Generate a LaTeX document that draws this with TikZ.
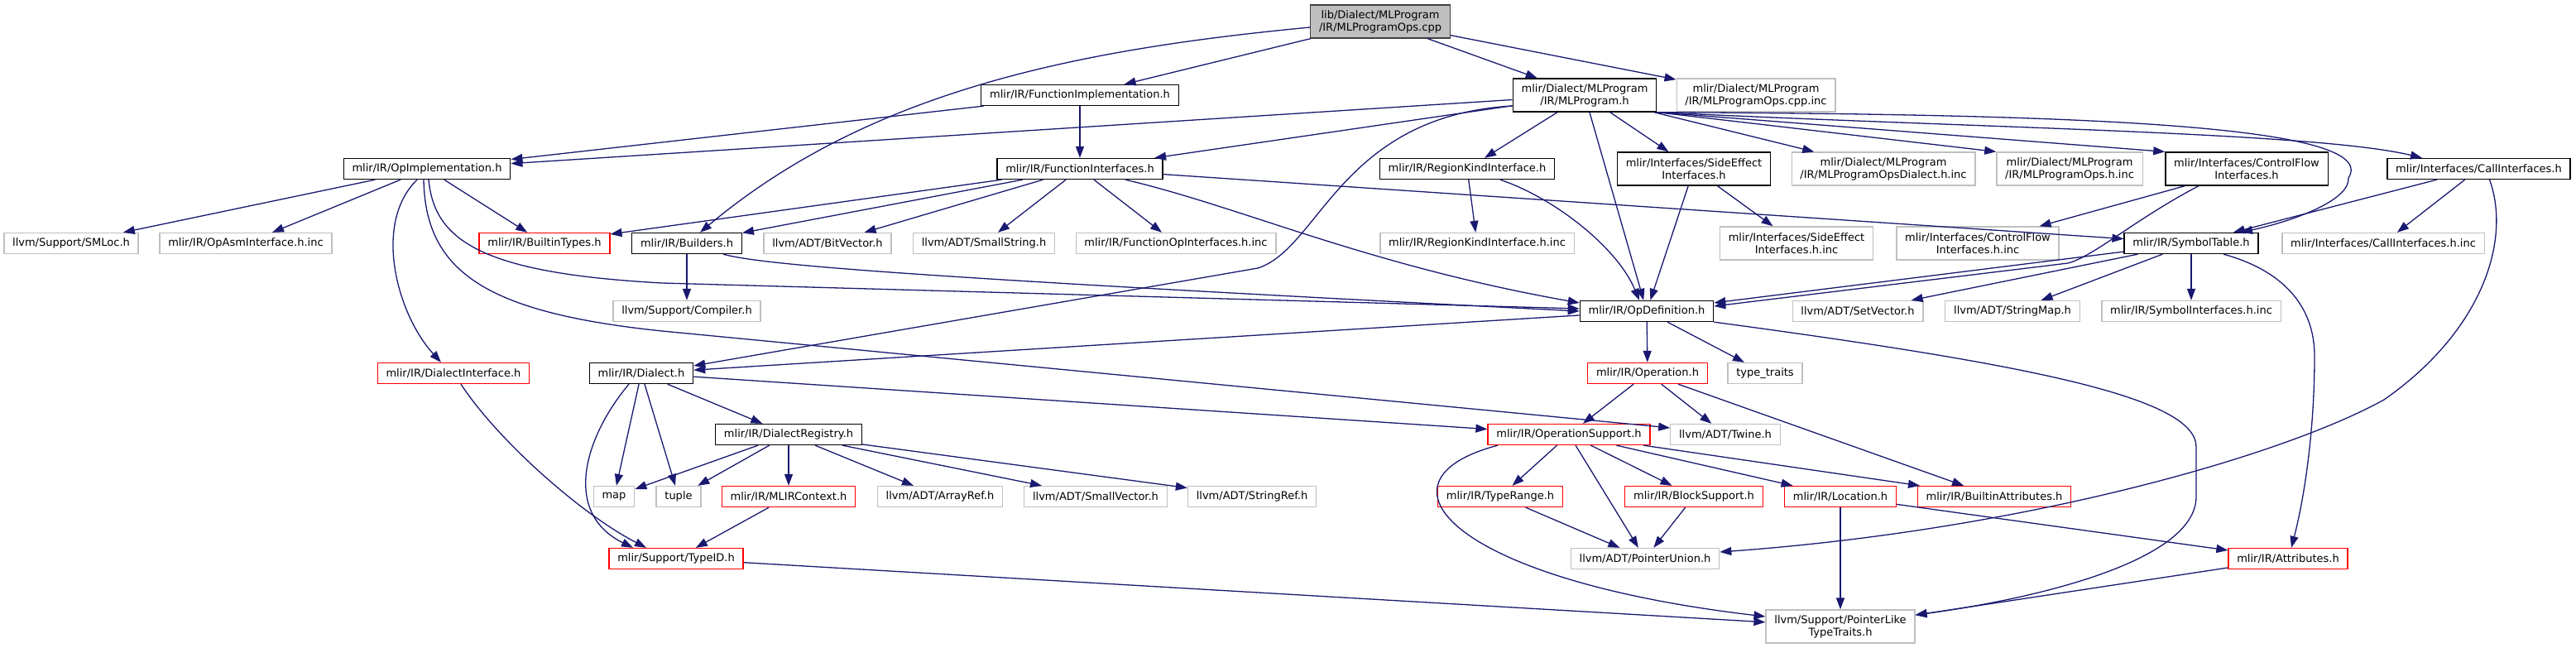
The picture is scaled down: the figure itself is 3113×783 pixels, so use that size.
\documentclass[tikz,border=0pt]{standalone}
\usepackage{fontspec}
\setmainfont{DejaVu Sans}
\usetikzlibrary{arrows.meta}
\definecolor{edgeblue}{HTML}{191970}
\definecolor{extline}{HTML}{BFBFBF}
\definecolor{rootfill}{HTML}{BFBFBF}
\definecolor{rootline}{HTML}{404040}
\definecolor{cutline}{HTML}{FF0000}
\tikzset{
  hfile/.style={draw=black, fill=white, line width=1.3pt, inner xsep=10.3pt, inner ysep=0pt,
                minimum height=25pt, align=center, font=\fontsize{13}{15}\selectfont},
  twoline/.style={minimum height=40pt},
  extfile/.style={draw=extline},
  cutfile/.style={draw=cutline},
  rootfile/.style={draw=rootline, fill=rootfill},
  dep/.style={-{Triangle[length=14pt,width=10pt]}, draw=edgeblue, line width=1.3pt},
}

\begin{document}
\begin{tikzpicture}[x=1pt, y=-1pt]
  \useasboundingbox (0,0) rectangle (3113,783);
  % top
  \node[hfile, twoline, rootfile] (root) at (1668,26) {lib/Dialect/MLProgram\\/IR/MLProgramOps.cpp};
  \node[hfile] (funcimpl) at (1305,115) {mlir/IR/FunctionImplementation.h};
  \node[hfile, twoline] (mlprog) at (1915,115) {mlir/Dialect/MLProgram\\/IR/MLProgram.h};
  \node[hfile, twoline, extfile] (opscppinc) at (2122,115) {mlir/Dialect/MLProgram\\/IR/MLProgramOps.cpp.inc};
  % second row
  \node[hfile] (opimpl) at (516,204) {mlir/IR/OpImplementation.h};
  \node[hfile] (funcif) at (1305,204) {mlir/IR/FunctionInterfaces.h};
  \node[hfile] (regionkind) at (1773,204) {mlir/IR/RegionKindInterface.h};
  \node[hfile, twoline] (sideeff) at (2047,204) {mlir/Interfaces/SideEffect\\Interfaces.h};
  \node[hfile, twoline, extfile] (dialectinc) at (2276,204) {mlir/Dialect/MLProgram\\/IR/MLProgramOpsDialect.h.inc};
  \node[hfile, twoline, extfile] (opshinc) at (2501,204) {mlir/Dialect/MLProgram\\/IR/MLProgramOps.h.inc};
  \node[hfile, twoline] (ctrlflow) at (2715,204) {mlir/Interfaces/ControlFlow\\Interfaces.h};
  \node[hfile] (callif) at (2995.5,204) {mlir/Interfaces/CallInterfaces.h};
  % third row
  \node[hfile, extfile] (smloc) at (86,294) {llvm/Support/SMLoc.h};
  \node[hfile, extfile] (opasminc) at (297,294) {mlir/IR/OpAsmInterface.h.inc};
  \node[hfile, cutfile] (builtintypes) at (658,294) {mlir/IR/BuiltinTypes.h};
  \node[hfile] (builders) at (830,294) {mlir/IR/Builders.h};
  \node[hfile, extfile] (bitvector) at (1000,294) {llvm/ADT/BitVector.h};
  \node[hfile, extfile] (smallstring) at (1189,294) {llvm/ADT/SmallString.h};
  \node[hfile, extfile] (funcopinc) at (1421,294) {mlir/IR/FunctionOpInterfaces.h.inc};
  \node[hfile, extfile] (regionkindinc) at (1785,294) {mlir/IR/RegionKindInterface.h.inc};
  \node[hfile, twoline, extfile] (sideeffinc) at (2171,294) {mlir/Interfaces/SideEffect\\Interfaces.h.inc};
  \node[hfile, twoline, extfile] (ctrlflowinc) at (2390,294) {mlir/Interfaces/ControlFlow\\Interfaces.h.inc};
  \node[hfile] (symtab) at (2648,294) {mlir/IR/SymbolTable.h};
  \node[hfile, extfile] (callifinc) at (2880,294) {mlir/Interfaces/CallInterfaces.h.inc};
  % fourth row
  \node[hfile, extfile] (compiler) at (830,376) {llvm/Support/Compiler.h};
  \node[hfile] (opdef) at (1990,376) {mlir/IR/OpDefinition.h};
  \node[hfile, extfile] (setvector) at (2245,376) {llvm/ADT/SetVector.h};
  \node[hfile, extfile] (stringmap) at (2432,376) {llvm/ADT/StringMap.h};
  \node[hfile, extfile] (symifinc) at (2648,376) {mlir/IR/SymbolInterfaces.h.inc};
  % lower rows
  \node[hfile, cutfile] (dialectif) at (548,451) {mlir/IR/DialectInterface.h};
  \node[hfile] (dialect) at (775,451) {mlir/IR/Dialect.h};
  \node[hfile, cutfile] (operation) at (1991,451) {mlir/IR/Operation.h};
  \node[hfile, extfile] (typetraits) at (2133,451) {type\_traits};
  \node[hfile] (registry) at (953,525) {mlir/IR/DialectRegistry.h};
  \node[hfile, cutfile] (opsupport) at (1896,525) {mlir/IR/OperationSupport.h};
  \node[hfile, extfile] (twine) at (2085,525) {llvm/ADT/Twine.h};
  \node[hfile, extfile] (map) at (742,600) {map};
  \node[hfile, extfile] (tuple) at (820,600) {tuple};
  \node[hfile, cutfile] (mlirctx) at (953,600) {mlir/IR/MLIRContext.h};
  \node[hfile, extfile] (arrayref) at (1136,600) {llvm/ADT/ArrayRef.h};
  \node[hfile, extfile] (smallvector) at (1324,600) {llvm/ADT/SmallVector.h};
  \node[hfile, extfile] (stringref) at (1513,600) {llvm/ADT/StringRef.h};
  \node[hfile, cutfile] (typerange) at (1813,600) {mlir/IR/TypeRange.h};
  \node[hfile, cutfile] (blocksupport) at (2047,600) {mlir/IR/BlockSupport.h};
  \node[hfile, cutfile] (location) at (2224,600) {mlir/IR/Location.h};
  \node[hfile, cutfile] (builtinattrs) at (2410,600) {mlir/IR/BuiltinAttributes.h};
  \node[hfile, cutfile] (typeid) at (817,675) {mlir/Support/TypeID.h};
  \node[hfile, extfile] (ptrunion) at (1988,675) {llvm/ADT/PointerUnion.h};
  \node[hfile, cutfile] (attributes) at (2765,675) {mlir/IR/Attributes.h};
  \node[hfile, twoline, extfile] (ptrlike) at (2224,757) {llvm/Support/PointerLike\\TypeTraits.h};

  % straight includes
  \foreach \a/\b in {root/mlprog, root/opscppinc, root/funcimpl,
      mlprog/opimpl, mlprog/funcif, mlprog/regionkind, mlprog/opdef, mlprog/sideeff, mlprog/dialectinc,
      funcimpl/opimpl, funcimpl/funcif,
      opimpl/smloc, opimpl/opasminc, opimpl/builtintypes,
      funcif/builtintypes, funcif/builders, funcif/bitvector, funcif/smallstring, funcif/funcopinc, funcif/symtab,
      builders/compiler, regionkind/regionkindinc, sideeff/sideeffinc, sideeff/opdef, ctrlflow/ctrlflowinc,
      callif/symtab, callif/callifinc,
      symtab/opdef, symtab/setvector, symtab/stringmap, symtab/symifinc,
      opdef/dialect, opdef/operation, opdef/typetraits,
      dialect/map, dialect/tuple, dialect/registry, dialect/opsupport,
      registry/map, registry/tuple, registry/mlirctx, registry/arrayref, registry/smallvector, registry/stringref,
      mlirctx/typeid, typeid/ptrlike,
      operation/opsupport, operation/twine, operation/builtinattrs,
      opsupport/typerange, opsupport/ptrunion, opsupport/blocksupport, opsupport/location, opsupport/builtinattrs,
      typerange/ptrunion, blocksupport/ptrunion,
      location/ptrlike, location/attributes, attributes/ptrlike}
    \draw[dep] (\a) -- (\b);
  \draw[dep] (mlprog.south east) -- (opshinc.north west);
  \draw[dep] (mlprog.south east) -- (ctrlflow.north west);

  % curved includes
  \draw[dep] ([yshift=-7pt]root.west) .. controls (1300,60) and (1050,110) .. ([xshift=16pt]builders.north);
  \draw[dep] ([yshift=-13pt]mlprog.west) .. controls (1620,140) and (1595,300) .. (1520,324) -- ([yshift=9pt]dialect.east);
  \draw[dep] (mlprog.south east) .. controls (2400,155) and (2800,160) .. ([xshift=-68.5pt]callif.north);
  \draw[dep] (mlprog.south east) .. controls (2500,138) and (2880,150) .. (2838,215)
    .. controls (2840,240) and (2780,265) .. ([xshift=60pt]symtab.north);
  \draw[dep] ([xshift=-12pt]opimpl.south) .. controls (450,270) and (480,380) .. ([xshift=-15pt]dialectif.north);
  \draw[dep] ([xshift=-4pt]opimpl.south) .. controls (514,330) and (590,378) .. (800,400) -- ([yshift=8pt]twine.west);
  \draw[dep] ([xshift=2pt]opimpl.south) .. controls (525,290) and (580,330) .. (800,342) -- ([yshift=3pt]opdef.west);
  \draw[dep] ([xshift=44pt]builders.south) .. controls (920,320) and (1100,335) .. (opdef.west);
  \draw[dep] ([xshift=55pt]funcif.south) .. controls (1500,250) and (1650,320) .. ([yshift=10pt]opdef.west);
  \draw[dep] ([xshift=40pt]regionkind.south) .. controls (1880,240) and (1955,300) .. ([xshift=-9pt]opdef.north);
  \draw[dep] ([xshift=-58pt]ctrlflow.south) .. controls (2580,265) and (2530,310) .. (2499,318) -- ([yshift=6pt]opdef.east);
  \draw[dep] ([xshift=13pt]callif.south) .. controls (3035,290) and (3000,400) .. (2881,483)
    .. controls (2760,550) and (2450,640) .. ([yshift=8pt]ptrunion.east);
  \draw[dep] ([xshift=39pt]symtab.south) .. controls (2770,330) and (2797,380) .. (2797,430)
    .. controls (2797,520) and (2785,600) .. ([xshift=4pt]attributes.north);
  \draw[dep] (opdef.south east) .. controls (2450,440) and (2654,480) .. (2654,540) -- (2654,600)
    .. controls (2654,680) and (2450,725) .. ([yshift=14pt]ptrlike.east);
  \draw[dep] ([xshift=-15pt]dialect.south) .. controls (705,530) and (680,620) .. ([xshift=-52pt]typeid.north);
  \draw[dep] ([xshift=9pt]dialectif.south) .. controls (600,530) and (700,620) .. ([xshift=-36pt]typeid.north);
  \draw[dep] ([xshift=-86pt]opsupport.south) .. controls (1650,580) and (1750,700) .. ([yshift=12pt]ptrlike.west);
\end{tikzpicture}
\end{document}
